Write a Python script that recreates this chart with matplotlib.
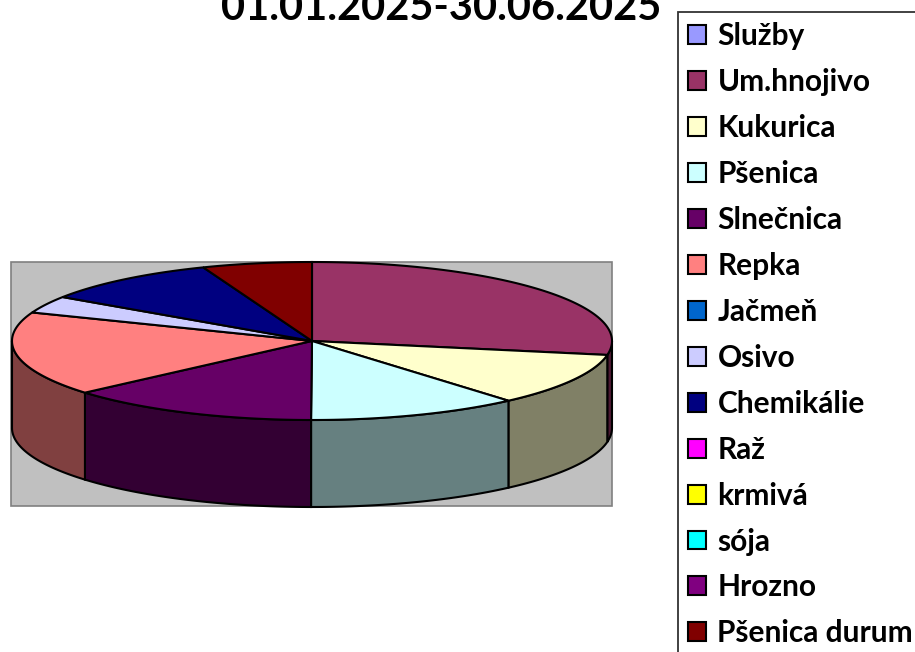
import numpy as np
import matplotlib
matplotlib.use('Agg')
import matplotlib.pyplot as plt
from matplotlib.patches import Polygon, Rectangle, Patch
from matplotlib.colors import to_rgb

# data (percent shares)
categories = ['Služby', 'Um.hnojivo', 'Kukurica', 'Pšenica', 'Slnečnica', 'Repka',
              'Jačmeň', 'Osivo', 'Chemikálie', 'Raž', 'krmivá', 'sója', 'Hrozno',
              'Pšenica durum']
values = [0, 27.8, 10.8, 11.4, 13.6, 17.2, 0, 3.5, 9.7, 0, 0, 0, 0, 5.9]
colors = ['#9999FF', '#993366', '#FFFFCC', '#CCFFFF', '#660066', '#FF8080',
          '#0066CC', '#CCCCFF', '#000080', '#FF00FF', '#FFFF00', '#00FFFF',
          '#800080', '#800000']
title = '01.01.2025-30.06.2025'

fig = plt.figure(figsize=(9.15, 6.52), dpi=100)
ax = fig.add_axes([0, 0, 1, 1])
ax.set_xlim(0, 915)
ax.set_ylim(652, 0)
ax.axis('off')

# plot area
ax.add_patch(Rectangle((11, 262), 601, 244, facecolor='#C0C0C0',
                       edgecolor='#808080', lw=1.2, zorder=0))

# 3d pie geometry (pixel units)
cx, cy = 312, 341
a, b = 300, 79
depth = 87

def arc(t0, t1, dy=0):
    t = np.linspace(t0, t1, max(int(abs(t1 - t0) * 80), 2))
    return np.column_stack([cx + a * np.sin(t), cy - b * np.cos(t) + dy])

vals = np.array(values, dtype=float)
angles = np.concatenate([[0], np.cumsum(vals) / vals.sum() * 2 * np.pi])

# outer side walls (front half only)
for i, v in enumerate(vals):
    if v <= 0:
        continue
    t0, t1 = angles[i], angles[i + 1]
    s0, s1 = max(t0, np.pi / 2), min(t1, 3 * np.pi / 2)
    if s1 <= s0:
        continue
    side = np.vstack([arc(s0, s1), arc(s1, s0, depth)])
    dark = tuple(c * 0.5 for c in to_rgb(colors[i]))
    ax.add_patch(Polygon(side, closed=True, facecolor=dark,
                         edgecolor='black', lw=1.5, zorder=2))

# top face
for i, v in enumerate(vals):
    if v <= 0:
        continue
    pts = np.vstack([[cx, cy], arc(angles[i], angles[i + 1])])
    ax.add_patch(Polygon(pts, closed=True, facecolor=colors[i],
                         edgecolor='black', lw=1.5, zorder=3))

fig.text(441 / 915, 1 - 20 / 652, title, ha='center', va='baseline',
         fontsize=30, fontweight='bold', family='Lato')

handles = [Patch(facecolor=c, edgecolor='black', lw=1.5) for c in colors]
leg = fig.legend(handles, categories, loc='upper left',
                 bbox_to_anchor=(678 / 915, 1 - 12 / 652),
                 prop={'family': 'Lato', 'weight': 'bold', 'size': 21.5},
                 frameon=True, fancybox=False, edgecolor='black',
                 handlelength=0.6, handleheight=0.6, handletextpad=0.37,
                 labelspacing=0.6, borderpad=0.35, borderaxespad=0)
leg.get_frame().set_linewidth(1.3)

fig.savefig('out.png', dpi=100)
